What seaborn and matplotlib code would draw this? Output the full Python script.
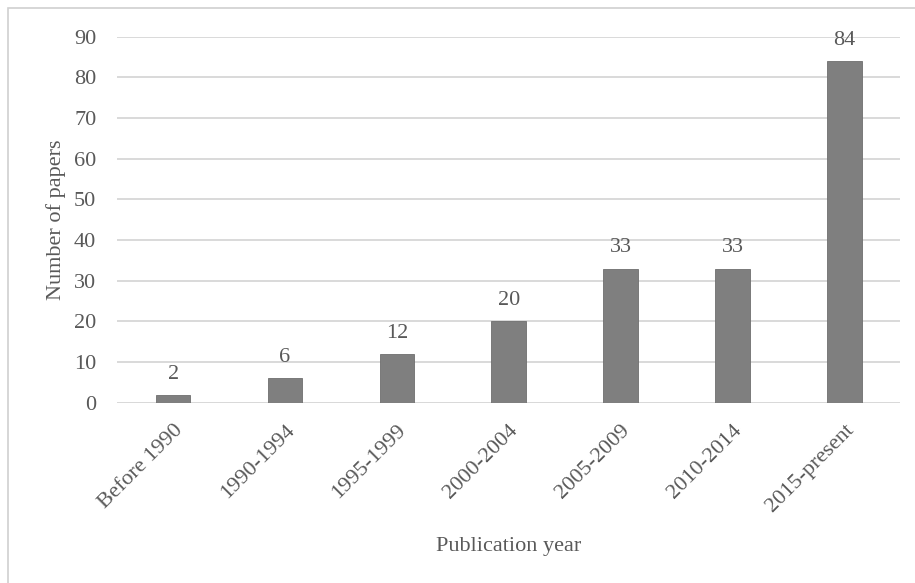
import matplotlib
matplotlib.use("Agg")
import matplotlib.pyplot as plt
from matplotlib.patches import Rectangle
import seaborn as sns
import pandas as pd

periods = ["Before 1990", "1990-1994", "1995-1999", "2000-2004",
           "2005-2009", "2010-2014", "2015-present"]
paper_counts = [2, 6, 12, 20, 33, 33, 84]
y_ticks = [0, 10, 20, 30, 40, 50, 60, 70, 80, 90]

sns.set_theme(style="white")
plt.rcParams["font.family"] = ["Liberation Serif", "DejaVu Serif"]

text_color = "#595959"
grid_color = "#d9d9d9"
bar_color = "#7f7f7f"
fs = 16

df = pd.DataFrame({"period": periods, "papers": paper_counts})

fig = plt.figure(figsize=(9.15, 5.83), dpi=100)
ax = fig.add_axes([0.128, 0.309, 0.856, 0.628])

sns.barplot(data=df, x="period", y="papers", color=bar_color,
            width=0.31, saturation=1, edgecolor="#6f6f6f", linewidth=0.6,
            ax=ax, zorder=3)

ax.set_ylim(0, 90)
ax.set_yticks(y_ticks)
ax.yaxis.grid(True, color=grid_color, linewidth=1.4, zorder=0)
ax.set_axisbelow(True)
for side in ["top", "right", "left", "bottom"]:
    ax.spines[side].set_visible(False)
ax.axhline(0, color=grid_color, linewidth=1.4, zorder=1)

ax.tick_params(axis="both", length=0, labelsize=fs, labelcolor=text_color)
ax.tick_params(axis="y", pad=15)
ax.tick_params(axis="x", pad=13)
plt.setp(ax.get_xticklabels(), rotation=45, ha="right", rotation_mode="anchor")

ax.bar_label(ax.containers[0], labels=[str(v) for v in paper_counts],
             padding=8, fontsize=fs, color=text_color)

ax.set_xlabel("Publication year", fontsize=fs, color=text_color, labelpad=15)
ax.set_ylabel("Number of papers", fontsize=fs, color=text_color, labelpad=6)

# thin frame around the chart area
fig.patches.append(Rectangle((8 / 915, -0.05), 1.1, 1 - 8 / 583 + 0.05,
                             transform=fig.transFigure, fill=False,
                             edgecolor="#d0d0d0", linewidth=1.2))

fig.savefig("out.png", dpi=100, facecolor="white")
